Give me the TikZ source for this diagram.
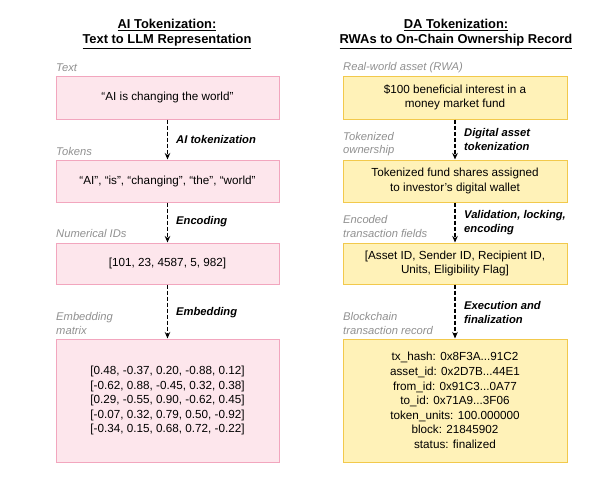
\documentclass[tikz,border=0pt]{standalone}
\usepackage{fontspec}
\setmainfont{Liberation Sans}
\usetikzlibrary{arrows.meta}
\definecolor{pinkfill}{HTML}{FDE6EC}
\definecolor{pinkdraw}{HTML}{F2A6BE}
\definecolor{yelfill}{HTML}{FFF2B8}
\definecolor{yeldraw}{HTML}{F2C94C}
\definecolor{labgray}{HTML}{909090}
\tikzset{
  pbox/.style={draw=pinkdraw, fill=pinkfill, line width=1pt, minimum width=223pt, align=center, inner sep=0pt, font=\fontsize{11.7}{14.2}\selectfont},
  ybox/.style={draw=yeldraw, fill=yelfill, line width=1pt, minimum width=224pt, align=center, inner sep=0pt, font=\fontsize{11.7}{14.2}\selectfont},
  ttl/.style={font=\bfseries\fontsize{12.9}{14.8}\selectfont, align=center},
  lab/.style={text=labgray, font=\itshape\fontsize{11.2}{13.7}\selectfont, align=left, anchor=west, inner sep=0pt},
  alab/.style={font=\bfseries\itshape\fontsize{11.2}{13.4}\selectfont, align=left, anchor=west, inner sep=0pt},
  flow/.style={line width=1.2pt, -{Stealth[length=6.5pt,width=5.5pt]}, dash pattern=on 4pt off 2pt}
}
\begin{document}
\begin{tikzpicture}[x=1pt,y=-1pt]
\useasboundingbox (0,0) rectangle (600,477);
% titles
\node[ttl] (t1) at (167,34) {\underline{AI Tokenization:}\\\underline{Text to LLM Representation}};
\node[ttl] (t2) at (456,34) {\underline{DA Tokenization:}\\\underline{RWAs to On-Chain Ownership Record}};
% left boxes
\node[pbox, minimum height=43pt] (l1) at (167.5,97.5) {“AI is changing the world”};
\node[pbox, minimum height=42pt] (l2) at (167.5,181) {“AI”, “is”, “changing”, “the”, “world”};
\node[pbox, minimum height=41pt] (l3) at (167.5,263.5) {{[}101, 23, 4587, 5, 982{]}};
\node[pbox, minimum height=123pt, font=\fontsize{11.7}{14.5}\selectfont] (l4) at (167.5,400.5) {{[}0.48, -0.37, 0.20, -0.88, 0.12{]}\\{[}-0.62, 0.88, -0.45, 0.32, 0.38{]}\\{[}0.29, -0.55, 0.90, -0.62, 0.45{]}\\{[}-0.07, 0.32, 0.79, 0.50, -0.92{]}\\{[}-0.34, 0.15, 0.68, 0.72, -0.22{]}};
% left labels
\node[lab] (ll1) at (56,68) {Text};
\node[lab] (ll2) at (56,151) {Tokens};
\node[lab] (ll3) at (56,233) {Numerical IDs};
\node[lab] (ll4) at (56,323.5) {Embedding\\matrix};
% left arrows
\draw[flow] (l1.south) -- (l2.north);
\draw[flow] (l2.south) -- (l3.north);
\draw[flow] (l3.south) -- (l4.north);
\node[alab] (al1) at (176,139) {AI tokenization};
\node[alab] (al2) at (176,222) {Encoding};
\node[alab] (al3) at (176,313) {Embedding};
% right boxes
\node[ybox, minimum height=43pt] (r1) at (455,97.5) {\$100 beneficial interest in a\\money market fund};
\node[ybox, minimum height=42pt] (r2) at (455,181) {Tokenized fund shares assigned\\to investor’s digital wallet};
\node[ybox, minimum height=41pt] (r3) at (455,263.5) {{[}Asset ID, Sender ID, Recipient ID,\\Units, Eligibility Flag{]}};
\node[ybox, minimum height=123pt, font=\fontsize{11.7}{14.6}\selectfont] (r4) at (455,400.5) {tx\_hash: 0x8F3A...91C2\\asset\_id: 0x2D7B...44E1\\from\_id: 0x91C3...0A77\\to\_id: 0x71A9...3F06\\token\_units: 100.000000\\block: 21845902\\status: finalized};
% right labels
\node[lab] (rl1) at (343,68) {Real-world asset (RWA)};
\node[lab] (rl2) at (343,144) {Tokenized\\ownership};
\node[lab] (rl3) at (343,226.5) {Encoded\\transaction fields};
\node[lab] (rl4) at (343,323.5) {Blockchain\\transaction record};
% right arrows
\draw[flow] (r1.south) -- (r2.north);
\draw[flow] (r2.south) -- (r3.north);
\draw[flow] (r3.south) -- (r4.north);
\node[alab] (ar1) at (464,139.5) {Digital asset\\tokenization};
\node[alab] (ar2) at (464,222.5) {Validation, locking,\\encoding};
\node[alab] (ar3) at (464,312.5) {Execution and\\finalization};
\end{tikzpicture}
\end{document}
